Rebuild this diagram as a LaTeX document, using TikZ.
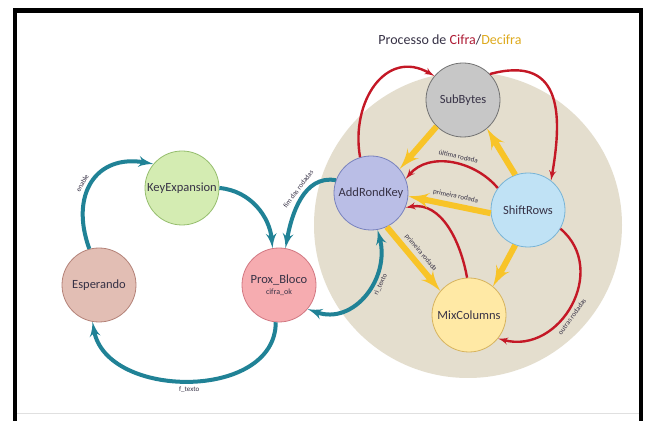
\documentclass[tikz,border=0pt]{standalone}
\usepackage{fontspec}
\setmainfont{Carlito}
\usepackage{xcolor}
\usetikzlibrary{arrows, calc, backgrounds}

\definecolor{nodetext}{RGB}{55,50,70}
\definecolor{procfill}{RGB}{228,222,206}
\definecolor{tealline}{RGB}{32,130,150}
\definecolor{redline}{RGB}{196,24,38}
\definecolor{yelline}{RGB}{248,196,40}
\definecolor{cifracol}{RGB}{175,30,55}
\definecolor{decifracol}{RGB}{222,170,30}

\begin{document}
\begin{tikzpicture}[x=1pt, y=1pt,
    state/.style={circle, draw, thick, minimum size=74pt, inner sep=0pt, text centered, text=nodetext, font=\fontsize{12.5}{13}\selectfont},
    tealarrow/.style={draw=tealline, line width=4pt, -latex'},
    redarrow/.style={draw=redline, line width=2.4pt, -latex'},
    yelarrow/.style={draw=yelline, line width=6pt, -latex'},
    lbl/.style={font=\fontsize{7}{8}\selectfont, text=nodetext, sloped, inner sep=3.5pt}]

    \useasboundingbox (0,0) rectangle (649,421);
    \fill [white] (0,0) rectangle (649,421);
    \draw [line width=4.5pt] (15,0) -- (15,410.5) -- (641,410.5) -- (641,0);
    \draw [black!12, line width=1pt] (17,7) -- (639,7);

    \fill [procfill] (468,196) ellipse [x radius=154, y radius=153];
    \node [font=\fontsize{14}{16}\selectfont, text=nodetext] (title) at (450,381)
        {Processo de \textcolor{cifracol}{Cifra}/\textcolor{decifracol}{Decifra}};

    \node [state, fill=black!22, draw=black!55] (sb) at (463,321) {SubBytes};
    \node [state, fill={rgb,255:red,186;green,190;blue,230}, draw={rgb,255:red,120;green,130;blue,190}] (ark) at (371,228) {AddRondKey};
    \node [state, fill={rgb,255:red,192;green,226;blue,245}, draw={rgb,255:red,120;green,180;blue,215}] (sr) at (528,211) {ShiftRows};
    \node [state, fill={rgb,255:red,255;green,233;blue,165}, draw={rgb,255:red,215;green,180;blue,95}] (mc) at (469,106) {MixColumns};
    \node [state, fill={rgb,255:red,212;green,236;blue,178}, draw={rgb,255:red,150;green,190;blue,110}] (key) at (182,233) {KeyExpansion};
    \node [state, fill={rgb,255:red,226;green,190;blue,180}, draw={rgb,255:red,180;green,130;blue,120}] (esp) at (99,136) {Esperando};
    \node [state, fill={rgb,255:red,246;green,172;blue,176}, draw={rgb,255:red,210;green,120;blue,130}, align=center] (prox) at (279,136)
        {Prox\_Bloco\\[-2pt]{\fontsize{8}{9}\selectfont cifra\_ok}};

    \path [tealarrow] (esp.105) to [out=110, in=170, looseness=1.4] node [lbl, pos=0.45, above] {enable} (key.140);
    \path [tealarrow] (key.0) to [out=-5, in=95] (prox.100);
    \path [tealarrow] (ark.160) to [out=170, in=80] node [lbl, pos=0.42, above] {fim das rodadas} (prox.80);
    \path [tealarrow, latex'-latex'] (prox.-40) to [out=-20, in=-75, looseness=1.2] node [lbl, pos=0.62, below] {ri\_texto} (ark.-80);
    \path [tealarrow] (prox.-95) to [out=-90, in=-80, looseness=1.1] node [lbl, pos=0.5, below] {f\_texto} (esp.-100);

    \path [redarrow] (ark.107) to [out=100, in=150, looseness=1.3] (sb.140);
    \path [redarrow] (sb.44) to [out=15, in=80, looseness=1.5] (sr.52);
    \path [redarrow] (sr.-30) to [out=-40, in=-15, looseness=1.3] node [lbl, pos=0.55, below] {outras rodadas} (mc.-39);
    \path [redarrow] (mc.93) to [out=100, in=10] (ark.-23);
    \path [redarrow] (sr.144) to [out=130, in=50] node [lbl, pos=0.45, above] {última rodada} (ark.22);

    \path [yelarrow] (sb.225) -- (ark.40);
    \path [yelarrow] (sr.110) -- (sb.-50);
    \path [yelarrow] (sr.185) -- node [lbl, pos=0.45, above] {primeira rodada} (ark.-5);
    \path [yelarrow] (ark.-65) -- node [lbl, pos=0.5, above] {primeira rodada} (mc.140);
    \path [yelarrow] (sr.-110) -- (mc.50);
\end{tikzpicture}
\end{document}
